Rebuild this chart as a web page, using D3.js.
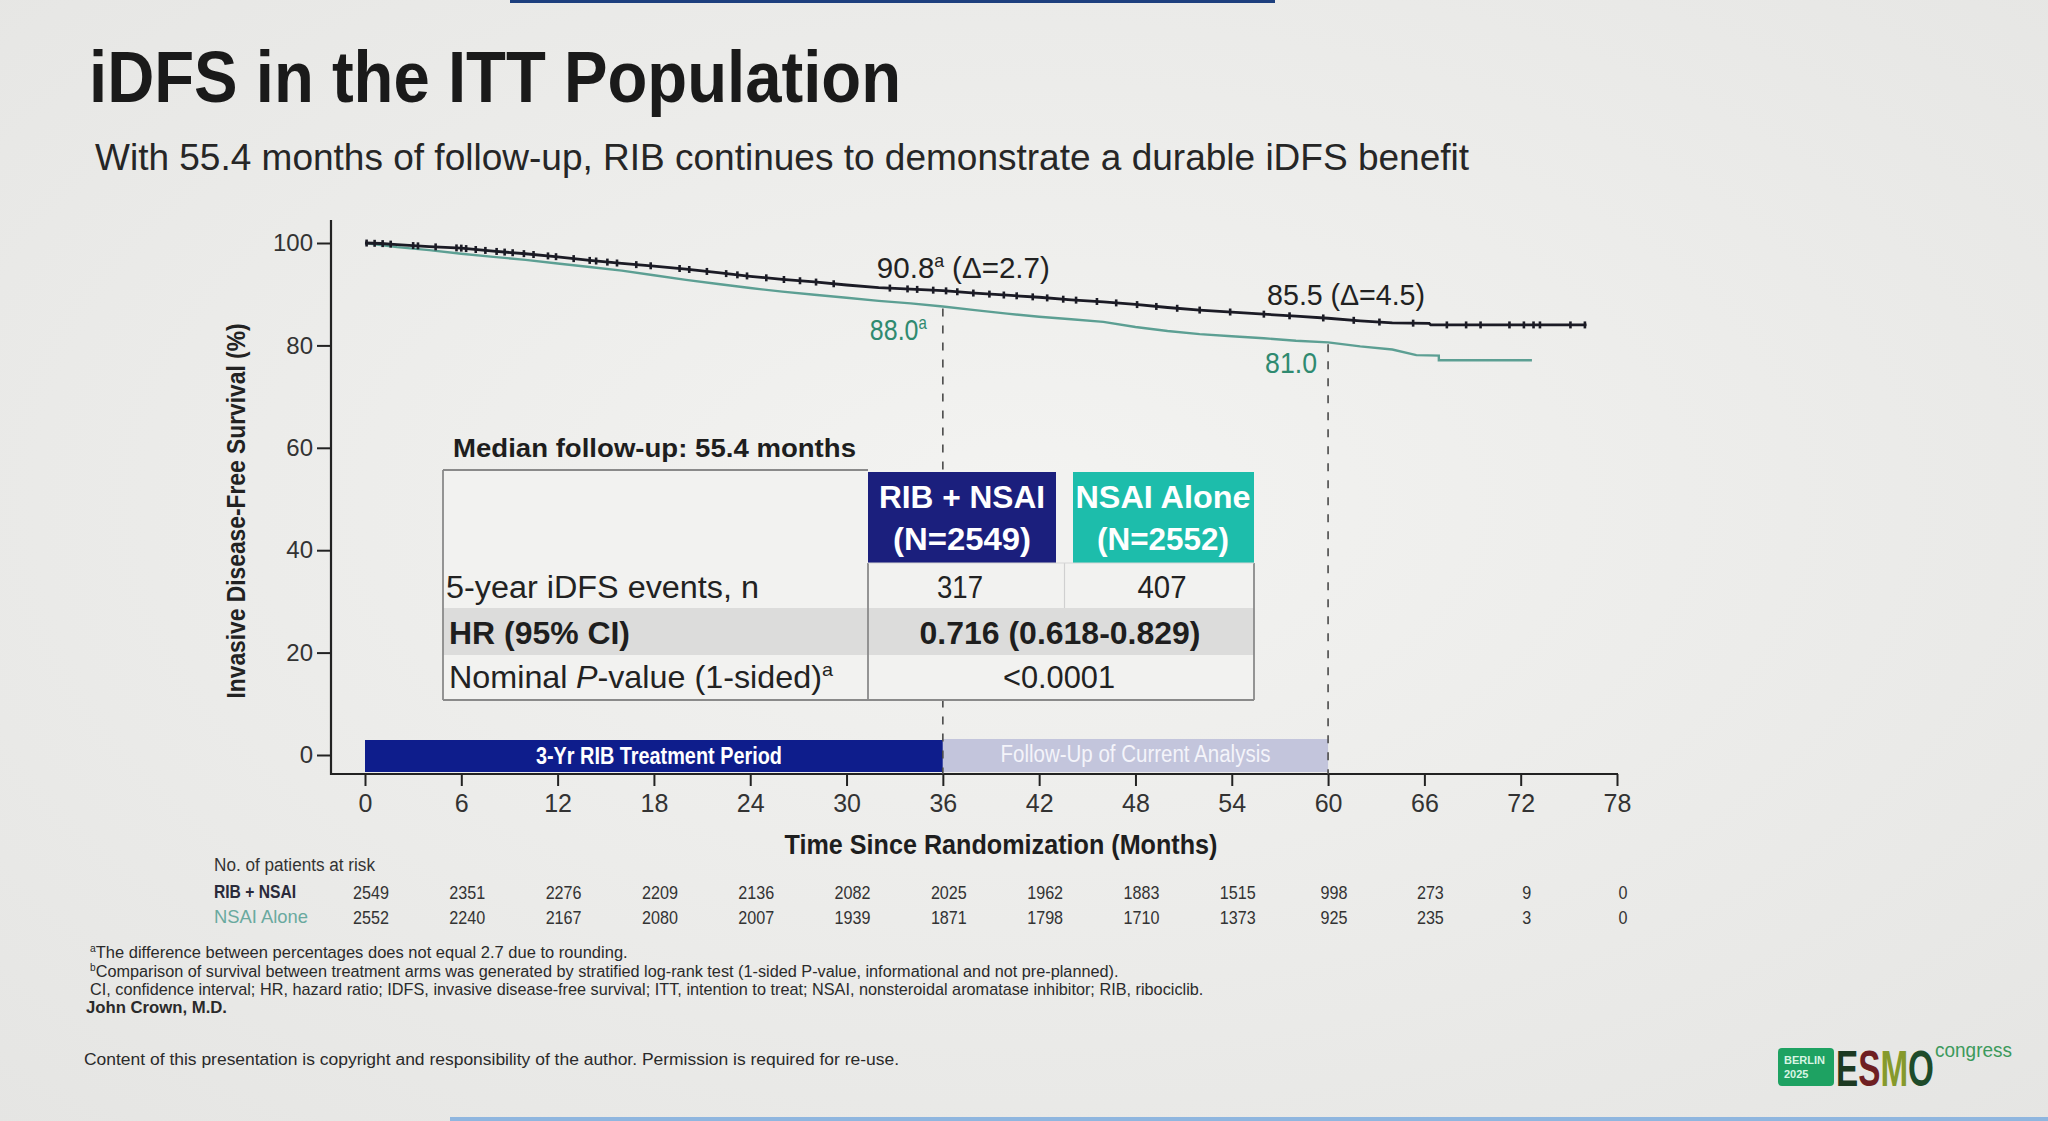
<!DOCTYPE html>
<html><head><meta charset="utf-8">
<script src="https://cdn.jsdelivr.net/npm/d3@7"></script>
<style>
html,body{margin:0;padding:0;background:#ececea;overflow:hidden}
svg{display:block}
</style></head><body>
<svg id="c" width="2048" height="1121"></svg>
<script>
// ---------------- DATA ----------------
const titleText = "iDFS in the ITT Population";
const subtitleText = "With 55.4 months of follow-up, RIB continues to demonstrate a durable iDFS benefit";
const yTicks = [0, 20, 40, 60, 80, 100];
const xTicks = [0, 6, 12, 18, 24, 30, 36, 42, 48, 54, 60, 66, 72, 78];
const seriesNames = ["RIB + NSAI", "NSAI Alone"];

const ribTime = [0,1,2,3,4,6,8,10,12,14,16,18,20,22,24,26,28,30,32,34,36,38,40,42,44,46,48,50,52,54,56,58,60,62,64,66.3,66.4,76.1];
const ribSurv = [100,99.9,99.7,99.5,99.3,99.0,98.4,97.9,97.3,96.6,96.0,95.5,94.9,94.2,93.5,92.9,92.4,91.8,91.3,91.0,90.7,90.2,89.8,89.4,88.9,88.5,88.0,87.4,86.9,86.5,86.1,85.7,85.3,84.8,84.4,84.3,84.0,84.0];

const nsaiTime = [0,1,2,3,4,6,8,10,12,14,16,18,20,22,24,26,28,30,32,34,36,38,40,42,44,46,48,50,52,54,56,58,60,62,64,65.5,66.9,66.9,72.7];
const nsaiSurv = [100,99.6,99.2,98.9,98.6,97.9,97.3,96.7,96.0,95.3,94.6,93.7,92.8,92.0,91.2,90.5,89.9,89.3,88.7,88.2,87.6,86.9,86.2,85.6,85.1,84.6,83.6,82.8,82.2,81.8,81.4,80.9,80.6,79.8,79.2,78.1,78.0,77.1,77.1];

const ribCensor = [0.1,0.6,1.1,1.6,3.0,3.3,4.4,5.7,6.0,6.3,6.9,7.5,8.2,8.7,9.2,9.9,10.5,11.4,11.9,13.0,14.0,14.4,15.1,15.7,16.9,17.8,19.6,20.2,21.3,22.5,23.2,23.8,25.0,26.1,27.1,28.1,29.2,32.7,33.8,34.4,35.4,36.2,36.9,37.9,38.9,39.8,40.6,41.6,42.5,43.5,44.3,45.6,46.8,48.1,49.3,50.6,52.0,53.9,56.0,57.6,59.7,61.6,63.2,65.3,67.4,68.6,69.5,71.3,72.2,72.8,73.2,75.1,76.0];

const landmarkMonths = [36, 60];
const landmarkRIB = ["90.8", "85.5"];
const landmarkNSAI = ["88.0", "81.0"];
const landmarkDelta = ["2.7", "4.5"];
const landmarkSup = ["a", ""];

const periodLabels = ["3-Yr RIB Treatment Period", "Follow-Up of Current Analysis"];
const periodBounds = [[0, 36], [36, 60]];

const riskTimes = [0,6,12,18,24,30,36,42,48,54,60,66,72,78];
const riskRIB  = [2549,2351,2276,2209,2136,2082,2025,1962,1883,1515,998,273,9,0];
const riskNSAI = [2552,2240,2167,2080,2007,1939,1871,1798,1710,1373,925,235,3,0];

const medianFollowUp = "Median follow-up: 55.4 months";
const headerRIB = ["RIB + NSAI", "(N=2549)"];
const headerNSAI = ["NSAI Alone", "(N=2552)"];
const eventsLabel = "5-year iDFS events, n";
const eventsRIB = "317";
const eventsNSAI = "407";
const hrLabel = "HR (95% CI)";
const hrValue = "0.716 (0.618-0.829)";
const pValue = "<0.0001";

const footnotes = [
  ["a", "The difference between percentages does not equal 2.7 due to rounding."],
  ["b", "Comparison of survival between treatment arms was generated by stratified log-rank test (1-sided P-value, informational and not pre-planned)."],
  ["", "CI, confidence interval; HR, hazard ratio; IDFS, invasive disease-free survival; ITT, intention to treat; NSAI, nonsteroidal aromatase inhibitor; RIB, ribociclib."]
];
const authorText = "John Crown, M.D.";
const copyrightText = "Content of this presentation is copyright and responsibility of the author. Permission is required for re-use.";

// ---------------- STYLE ----------------
const FONT = "'Liberation Sans', Arial, Helvetica, sans-serif";
const C_RIB = "#1b1b25";
const C_NSAI = "#5c9f93";
const C_NSAI_TXT = "#2f8a70";
const C_NAVY = "#1b1f7d";
const C_TEAL = "#1dbdab";
const C_BAR = "#0e1d8c";
const C_FU = "#c3c5dc";
const C_TXT = "#1e1e1e";

const svg = d3.select("#c");
const defs = svg.append("defs");
const rg = defs.append("radialGradient").attr("id","bg").attr("cx","50%").attr("cy","45%").attr("r","75%");
rg.append("stop").attr("offset","0%").attr("stop-color","#f3f3f1");
rg.append("stop").attr("offset","100%").attr("stop-color","#e5e5e3");
svg.append("rect").attr("width",2048).attr("height",1121).attr("fill","url(#bg)");
svg.append("rect").attr("x",510).attr("y",0).attr("width",765).attr("height",3).attr("fill","#1d3f7e");
svg.append("rect").attr("x",450).attr("y",1117).attr("width",1598).attr("height",4).attr("fill","#8fb6df");

function fit(sel, w){ return sel.attr("textLength", w).attr("lengthAdjust", "spacingAndGlyphs"); }
function cond(sel, k){
  sel.each(function(){ const L = this.getComputedTextLength(); d3.select(this).attr("textLength", L*k).attr("lengthAdjust","spacingAndGlyphs"); });
  return sel;
}
function txt(x, y, s, size, opts={}){
  return svg.append("text").attr("x", x).attr("y", y)
    .attr("font-family", FONT).attr("font-size", size)
    .attr("fill", opts.fill || C_TXT)
    .attr("font-weight", opts.bold ? "bold" : "normal")
    .attr("text-anchor", opts.anchor || "start")
    .text(s);
}
// multi-part text: each part its own <text>, laid out side by side, then condensed horizontally to a target width
function rich(x, y, parts, target, anchor, base){
  const g = svg.append("g");
  let cx = 0;
  parts.forEach(p => {
    cx += (p.pre || 0);
    const t = g.append("text").attr("x", cx).attr("y", p.dy || 0)
      .attr("font-family", FONT).attr("font-size", p.size || base.size)
      .attr("font-weight", (p.bold ?? base.bold) ? "bold" : "normal")
      .attr("font-style", p.italic ? "italic" : "normal")
      .attr("fill", p.fill || base.fill || C_TXT).text(p.t);
    cx += t.node().getComputedTextLength();
  });
  const k = target ? target / cx : 1;
  const w = cx * k;
  const ox = anchor === "middle" ? -w/2 : anchor === "end" ? -w : 0;
  g.attr("transform", `translate(${x + ox},${y}) scale(${k},1)`);
  return g;
}

// Title / subtitle
fit(txt(89, 102, titleText, 72, {bold:true, fill:"#1a1a1a"}), 812);
fit(txt(95, 170, subtitleText, 37, {fill:"#262626"}), 1374);

// ---------------- SCALES ----------------
const x = d3.scaleLinear().domain([0, 78]).range([365, 1617]);
const y = d3.scaleLinear().domain([0, 100]).range([755, 243]);
const axisX0 = 331, axisY0 = 774, axisTop = 220;

// Axes
const gy = svg.append("g").attr("transform", `translate(${axisX0},0)`)
  .call(d3.axisLeft(y).tickValues(yTicks).tickSize(14).tickPadding(4));
gy.select(".domain").remove();
gy.selectAll("line").attr("stroke","#222").attr("stroke-width",2);
gy.selectAll("text").attr("font-family",FONT).attr("font-size",24).attr("fill","#333");

const gx = svg.append("g").attr("transform", `translate(0,${axisY0})`)
  .call(d3.axisBottom(x).tickValues(xTicks).tickSize(12).tickPadding(8));
gx.select(".domain").remove();
gx.selectAll("line").attr("stroke","#222").attr("stroke-width",2);
gx.selectAll("text").attr("font-family",FONT).attr("font-size",25).attr("fill","#333");

// Axis titles
fit(txt(1001, 854, "Time Since Randomization (Months)", 28, {bold:true, anchor:"middle"}), 433);
fit(svg.append("text").attr("transform","translate(245,511) rotate(-90)")
  .attr("font-family",FONT).attr("font-size",26).attr("font-weight","bold").attr("fill","#222")
  .attr("text-anchor","middle").text("Invasive Disease-Free Survival (%)"), 375);

// Period bars
const barTop = [740, 739], barBot = 772;
const barFill = [C_BAR, C_FU];
const barTxtFill = ["#ffffff", "#f4f4fa"];
const barTxtW = [246, 270];
periodBounds.forEach((b, i) => {
  svg.append("rect").attr("x", x(b[0])).attr("y", barTop[i]).attr("width", x(b[1]) - x(b[0]))
    .attr("height", barBot - barTop[i]).attr("fill", barFill[i]);
  fit(txt((x(b[0]) + x(b[1]))/2 + (i===0 ? 5 : 0), i===0 ? 764 : 762, periodLabels[i], 23, {anchor:"middle", fill:barTxtFill[i], bold: i===0}), barTxtW[i]);
});

// Axis lines
svg.append("line").attr("x1",axisX0).attr("x2",axisX0).attr("y1",axisTop).attr("y2",axisY0+1).attr("stroke","#222").attr("stroke-width",2.2);
svg.append("line").attr("x1",axisX0).attr("x2",x(78)+1).attr("y1",axisY0).attr("y2",axisY0).attr("stroke","#222").attr("stroke-width",2.2);

// interpolation helper to place marks on the drawn curve
function survAt(times, surv, t){
  for (let i = times.length - 1; i >= 0; i--) {
    if (times[i] <= t) {
      if (i === times.length - 1) return surv[i];
      const t0 = times[i], t1 = times[i+1];
      if (t1 === t0) return surv[i+1];
      return surv[i] + (surv[i+1] - surv[i]) * (t - t0) / (t1 - t0);
    }
  }
  return surv[0];
}

// Dashed landmark lines
landmarkMonths.forEach(m => {
  svg.append("line").attr("x1", x(m)).attr("x2", x(m))
    .attr("y1", y(survAt(nsaiTime, nsaiSurv, m)) + 2).attr("y2", axisY0)
    .attr("stroke", "#4a4a4a").attr("stroke-width", 1.6).attr("stroke-dasharray", "8,9");
});

// Curves
const line = d3.line().x(d => x(d[0])).y(d => y(d[1])).curve(d3.curveLinear);
svg.append("path").datum(nsaiTime.map((t,i)=>[t, nsaiSurv[i]])).attr("d", line)
  .attr("fill","none").attr("stroke", C_NSAI).attr("stroke-width", 2.4);
svg.append("path").datum(ribTime.map((t,i)=>[t, ribSurv[i]])).attr("d", line)
  .attr("fill","none").attr("stroke", C_RIB).attr("stroke-width", 2.8);
svg.append("g").selectAll("line").data(ribCensor).join("line")
  .attr("x1", d => x(d)).attr("x2", d => x(d))
  .attr("y1", d => y(survAt(ribTime, ribSurv, d)) - 3.5)
  .attr("y2", d => y(survAt(ribTime, ribSurv, d)) + 3.5)
  .attr("stroke", C_RIB).attr("stroke-width", 2.6);

// Landmark labels
landmarkMonths.forEach((m, i) => {
  const ry = y(+landmarkRIB[i]);
  const ny = y(+landmarkNSAI[i]);
  const p1 = [{t: landmarkRIB[i]}];
  if (landmarkSup[i]) p1.push({t: landmarkSup[i], size: 18, dy: -11});
  p1.push({t: "(Δ=" + landmarkDelta[i] + ")", pre: 8});
  rich(x(m) - (i===0 ? 66 : 61), ry - 12, p1, i===0 ? 173 : 158, "start", {size: 30, fill: "#222"});
  const p2 = [{t: landmarkNSAI[i]}];
  if (landmarkSup[i]) p2.push({t: landmarkSup[i], size: 18, dy: -11});
  rich(x(m) - (i===0 ? 16 : 11), ny + (i===0 ? 36 : 33), p2, i===0 ? 57 : 52, "end", {size: 30, fill: C_NSAI_TXT});
});

// ---------------- TABLE ----------------
fit(txt(453, 457, medianFollowUp, 26, {bold:true}), 403);
const T = {l:443, r:1254, top:470, hb:563, r1:608, r2:655, b:700, c1:868, c1r:1056, c2:1073};
svg.append("rect").attr("x", T.l).attr("y", T.top).attr("width", T.r - T.l).attr("height", T.b - T.top).attr("fill", "#f2f2f0");
svg.append("rect").attr("x", T.l).attr("y", T.r1).attr("width", T.r - T.l).attr("height", T.r2 - T.r1).attr("fill", "#dcdcdb");
svg.append("rect").attr("x", T.c1).attr("y", T.top + 2).attr("width", T.c1r - T.c1).attr("height", T.hb - T.top - 2).attr("fill", C_NAVY);
svg.append("rect").attr("x", T.c2).attr("y", T.top + 2).attr("width", T.r - T.c2).attr("height", T.hb - T.top - 2).attr("fill", C_TEAL);
const border = "#8a8a8a";
[[T.l,T.top,T.c1,T.top],[T.l,T.top,T.l,T.b],[T.l,T.b,T.r,T.b],[T.r,T.hb,T.r,T.b],[T.c1,T.hb,T.c1,T.b]].forEach(s=>{
  svg.append("line").attr("x1",s[0]).attr("y1",s[1]).attr("x2",s[2]).attr("y2",s[3]).attr("stroke",border).attr("stroke-width",1.8);
});
svg.append("line").attr("x1",(T.c1r+T.c2)/2).attr("x2",(T.c1r+T.c2)/2).attr("y1",T.hb).attr("y2",T.r1).attr("stroke","#d0d0d0").attr("stroke-width",1.2);
svg.append("line").attr("x1",T.c1).attr("x2",T.r).attr("y1",T.hb).attr("y2",T.hb).attr("stroke","#d6d6d6").attr("stroke-width",1);

const cx1 = 962, cx2 = 1163;
fit(txt(cx1, 508, headerRIB[0], 32, {bold:true, fill:"#fff", anchor:"middle"}), 166);
fit(txt(cx1, 550, headerRIB[1], 32, {bold:true, fill:"#fff", anchor:"middle"}), 138);
fit(txt(cx2, 508, headerNSAI[0], 32, {bold:true, fill:"#fff", anchor:"middle"}), 175);
fit(txt(cx2, 550, headerNSAI[1], 32, {bold:true, fill:"#fff", anchor:"middle"}), 132);

fit(txt(446, 598, eventsLabel, 31, {fill:"#222"}), 313);
fit(txt(960, 598, eventsRIB, 31, {anchor:"middle", fill:"#222"}), 46);
fit(txt(1162, 598, eventsNSAI, 31, {anchor:"middle", fill:"#222"}), 49);
fit(txt(449, 644, hrLabel, 31, {bold:true}), 181);
fit(txt(1060, 644, hrValue, 31, {bold:true, anchor:"middle"}), 281);
rich(449, 688, [
  {t: "Nominal"},
  {t: "P", italic: true, pre: 8},
  {t: "-value (1-sided)"},
  {t: "a", size: 19, dy: -12}
], 384, "start", {size: 31, fill: "#222"});
fit(txt(1059, 688, pValue, 31, {anchor:"middle", fill:"#222"}), 112);

// ---------------- RISK TABLE ----------------
fit(txt(214, 871, "No. of patients at risk", 18, {fill:"#333"}), 161);
fit(txt(214, 898, seriesNames[0], 19, {fill:"#2a2a3a", bold:true}), 82);
fit(txt(214, 923, seriesNames[1], 19, {fill:"#6aa99f"}), 94);
cond(svg.append("g").selectAll("text").data(riskTimes).join("text")
  .attr("x", d => x(d) + 6).attr("y", 899).attr("text-anchor","middle")
  .attr("font-family", FONT).attr("font-size", 19).attr("fill","#333")
  .text((d,i) => riskRIB[i]), 0.85);
cond(svg.append("g").selectAll("text").data(riskTimes).join("text")
  .attr("x", d => x(d) + 6).attr("y", 924).attr("text-anchor","middle")
  .attr("font-family", FONT).attr("font-size", 19).attr("fill","#333")
  .text((d,i) => riskNSAI[i]), 0.85);

// ---------------- FOOTNOTES ----------------
const fnY = [958, 977, 995];
const fnW = [538, 1029, 1114];
footnotes.forEach((f, i) => {
  const parts = [];
  if (f[0]) parts.push({t: f[0], size: 10, dy: -6});
  parts.push({t: f[1]});
  rich(90, fnY[i], parts, fnW[i], "start", {size: 16, fill: "#2a2a2a"});
});
fit(txt(86, 1013, authorText, 16, {bold:true, fill:"#2a2a2a"}), 141);
fit(txt(84, 1065, copyrightText, 16, {fill:"#2a2a2a"}), 815);

// ---------------- LOGO ----------------
svg.append("rect").attr("x",1778).attr("y",1048).attr("width",56).attr("height",38).attr("rx",4).attr("fill","#1ea262");
txt(1784, 1064, "BERLIN", 11, {fill:"#d8f5e4", bold:true});
txt(1784, 1078, "2025", 11, {fill:"#d8f5e4", bold:true});
rich(1836, 1086, [
  {t: "E", fill: "#1d3a22"}, {t: "S", fill: "#6f1f22"}, {t: "M", fill: "#869a2c"}, {t: "O", fill: "#1e4b2a"}
], 98, "start", {size: 50, bold: true});
fit(txt(1935, 1057, "congress", 21, {fill:"#3c9a5c"}), 77);
</script>
</body></html>
